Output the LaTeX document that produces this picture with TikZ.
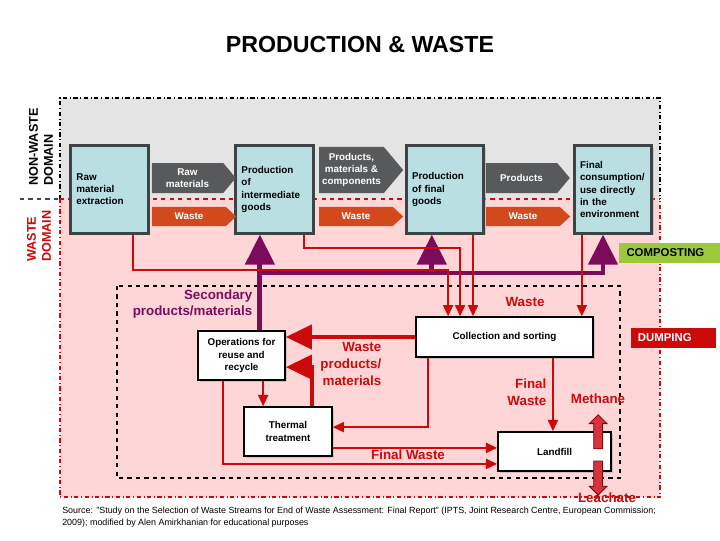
\documentclass[tikz,border=0pt]{standalone}
\usepackage{fontspec}
\setmainfont{Liberation Sans}
\usetikzlibrary{arrows.meta,shapes.symbols,shapes.arrows,shadows,positioning}
\definecolor{boxblue}{HTML}{B9DFE3}
\definecolor{boxedge}{HTML}{3E4446}
\definecolor{flowgray}{HTML}{58595B}
\definecolor{flowwaste}{HTML}{D2491C}
\definecolor{wastered}{HTML}{CC0A0A}
\definecolor{secpurple}{HTML}{7D0B5C}
\definecolor{panelgray}{HTML}{E4E4E4}
\definecolor{panelpink}{HTML}{FFD6D8}
\definecolor{compgreen}{HTML}{9CC93B}
\definecolor{domainblue}{HTML}{33407A}
\definecolor{gasred}{HTML}{D9323F}
\begin{document}
\begin{tikzpicture}[x=0.025cm,y=-0.025cm,>=Latex,
	every node/.style={font=\bfseries},
	stagebox/.style={draw=boxedge,line width=2pt,fill=boxblue,minimum width=1.93cm,minimum height=2.18cm,text width=1.65cm,inner sep=0.1cm,align=left,font=\fontsize{7}{8.6}\selectfont\bfseries,drop shadow={shadow xshift=0.05cm,shadow yshift=-0.05cm,fill=black!35}},
	procbox/.style={draw=black,line width=1pt,fill=white,align=center,font=\fontsize{7}{8.6}\selectfont\bfseries,drop shadow={shadow xshift=0.05cm,shadow yshift=-0.05cm,fill=black!35}},
	flowarrow/.style={shape=signal,signal to=east,signal pointer angle=100,fill=flowgray,text=white,align=center,inner sep=1pt,font=\fontsize{7}{8.6}\selectfont\bfseries,minimum width=2.1cm,minimum height=0.75cm},
	wastearrow/.style={flowarrow,fill=flowwaste,minimum height=0.48cm,signal pointer angle=85},
	tagbox/.style={minimum height=0.52cm,align=left,font=\fontsize{8.1}{9}\selectfont\bfseries},
	purpleflow/.style={secpurple,line width=3.5pt,-{Triangle[length=0.75cm,width=0.72cm]}},
	thinflow/.style={wastered,line width=1.4pt,-{Triangle[length=0.28cm,width=0.25cm]}},
	thickflow/.style={wastered,line width=3pt,-{Triangle[length=0.65cm,width=0.6cm]}},
	gasarrow/.style={single arrow,draw=red!50!black,fill=gasred,line width=0.6pt,inner sep=0.1cm,single arrow head extend=0.11cm,minimum height=0.85cm},
	redlabel/.style={text=wastered,font=\fontsize{9.5}{11.8}\selectfont\bfseries,inner sep=1pt}]

	\useasboundingbox (0,0) rectangle (720,540);

	\fill[panelgray] (60,98) rectangle (660,199);
	\fill[panelpink] (60,199) rectangle (660,497);
	\draw[black,dash dot,line width=1.2pt] (60,199) -- (60,98) -- (660,98) -- (660,199);
	\draw[wastered,dash dot,line width=1.2pt] (60,199) -- (60,497) -- (660,497) -- (660,199);
	\draw[wastered,dashed,line width=0.9pt] (60,199) -- (660,199);
	\draw[domainblue,dashed,line width=1.5pt] (20,199) -- (60,199);
	\draw[dashed,line width=1pt] (117,286) rectangle (620,478);

	\node[font=\fontsize{16.5}{20}\selectfont\bfseries] (title) at (360,45) {PRODUCTION \& WASTE};
	\node[rotate=90,align=left,font=\fontsize{9}{10.6}\selectfont\bfseries] (nonwaste) at (41,147) {NON-WASTE\\DOMAIN};
	\node[rotate=90,align=left,text=wastered,font=\fontsize{9}{10.6}\selectfont\bfseries] (wastedomain) at (39,236) {WASTE\\DOMAIN};

	\node[stagebox] (ext) at (109.5,189.5) {Raw\\material\\extraction};
	\node[stagebox] (inter) at (274.5,189.5) {Production\\of\\intermediate\\goods};
	\node[stagebox] (fin) at (445,189.5) {Production\\of final\\goods};
	\node[stagebox] (cons) at (613,189.5) {Final\\consumption/\\use directly\\in the\\environment};

	\node[flowarrow] (rawflow) at (187.5,178) {Raw\\materials};
	\node[flowarrow,minimum height=1.15cm] (compflow) at (351.5,170) {Products,\\materials \&\\components};
	\node[flowarrow] (prodflow) at (521.5,178) {Products};
	\node[wastearrow] (waste1) at (189,216.5) {Waste};
	\node[wastearrow] (waste2) at (356,216.5) {Waste};
	\node[wastearrow] (waste3) at (523,216.5) {Waste};

	\node[tagbox,fill=compgreen,minimum width=2.53cm,text width=2.15cm] (compost) at (669.5,253) {COMPOSTING};
	\node[tagbox,fill=wastered,text=white,minimum width=2.13cm,text width=1.78cm] (dump) at (673.5,338) {DUMPING};

	\node[procbox,minimum width=4.43cm,minimum height=1cm] (coll) at (504.5,337) {Collection and sorting};
	\node[procbox,minimum width=2.18cm,minimum height=1.23cm] (ops) at (241.5,355.5) {Operations for\\reuse and\\recycle};
	\node[procbox,minimum width=2.2cm,minimum height=1.23cm] (therm) at (288,431.5) {Thermal\\treatment};
	\node[procbox,minimum width=2.83cm,minimum height=0.98cm] (land) at (554.5,451.5) {Landfill};

	\coordinate (secbus) at (260,273);
	\draw[purpleflow] ([xshift=0.46cm]ops.north) -- ([xshift=0.46cm]ops.north |- inter.south);
	\draw[purpleflow] (secbus) -| ([xshift=-0.25cm]cons.south);
	\draw[purpleflow] ([xshift=-0.33cm]fin.south |- secbus) -- ([xshift=-0.33cm]fin.south);

	\draw[thinflow] ([xshift=0.59cm]ext.south) -- ++(0,35) -| ([xshift=-1.41cm]coll.north);
	\draw[thinflow] ([xshift=0.74cm]inter.south) -- ++(0,13) -| ([xshift=-1.11cm]coll.north);
	\draw[thinflow] ([xshift=0.7cm]fin.south) -- ([xshift=0.7cm]fin.south |- coll.north);
	\draw[thinflow] ([xshift=-0.78cm]cons.south) -- ([xshift=-0.78cm]cons.south |- coll.north);
	\draw[thickflow] (coll.west) -- (coll.west -| ops.east);
	\draw[thickflow] ([xshift=0.6cm]therm.north) |- ([yshift=-0.29cm]ops.east);
	\draw[thinflow] ([xshift=0.54cm]ops.south) -- ([xshift=0.54cm]ops.south |- therm.north);
	\draw[thinflow] ([xshift=-1.91cm]coll.south) |- ([yshift=0.11cm]therm.east);
	\draw[thinflow] ([yshift=-0.41cm]therm.east) -- ([yshift=-0.41cm]therm.east -| land.west);
	\draw[thinflow] ([xshift=-0.46cm]ops.south) |- ([yshift=-0.31cm]land.west);
	\draw[thinflow] ([xshift=1.21cm]coll.south) -- ([xshift=1.21cm]coll.south |- land.north);

	\node[gasarrow,rotate=90,anchor=tail] (methane) at ([xshift=1.09cm,yshift=-0.45cm]land.north) {};
	\node[gasarrow,rotate=-90,anchor=tail] (leachate) at ([xshift=1.09cm,yshift=0.28cm]land.south) {};

	\node[redlabel] (wastelbl) at (525,302) {Waste};
	\node[redlabel,align=right,anchor=east] (wplbl) at (383,364) {Waste\\products/\\materials};
	\node[redlabel] (finallbl) at (408,455) {Final Waste};
	\node[redlabel,align=right,anchor=east] (finalwaste) at (548,392) {Final\\Waste};
	\node[redlabel] (methanelbl) at (598,399) {Methane};
	\node[redlabel] (leachatelbl) at (607,498) {Leachate};
	\node[redlabel,text=secpurple,align=right,anchor=east] (seclbl) at (254,304) {Secondary\\products/materials};

	\node[anchor=north west,align=left,inner sep=0pt,font=\fontsize{6.35}{8.5}\selectfont\mdseries] (source) at (62,507) {Source: "Study on the Selection of Waste Streams for End of Waste Assessment: Final Report" (IPTS, Joint Research Centre, European Commission;\\2009); modified by Alen Amirkhanian for educational purposes};
\end{tikzpicture}
\end{document}
